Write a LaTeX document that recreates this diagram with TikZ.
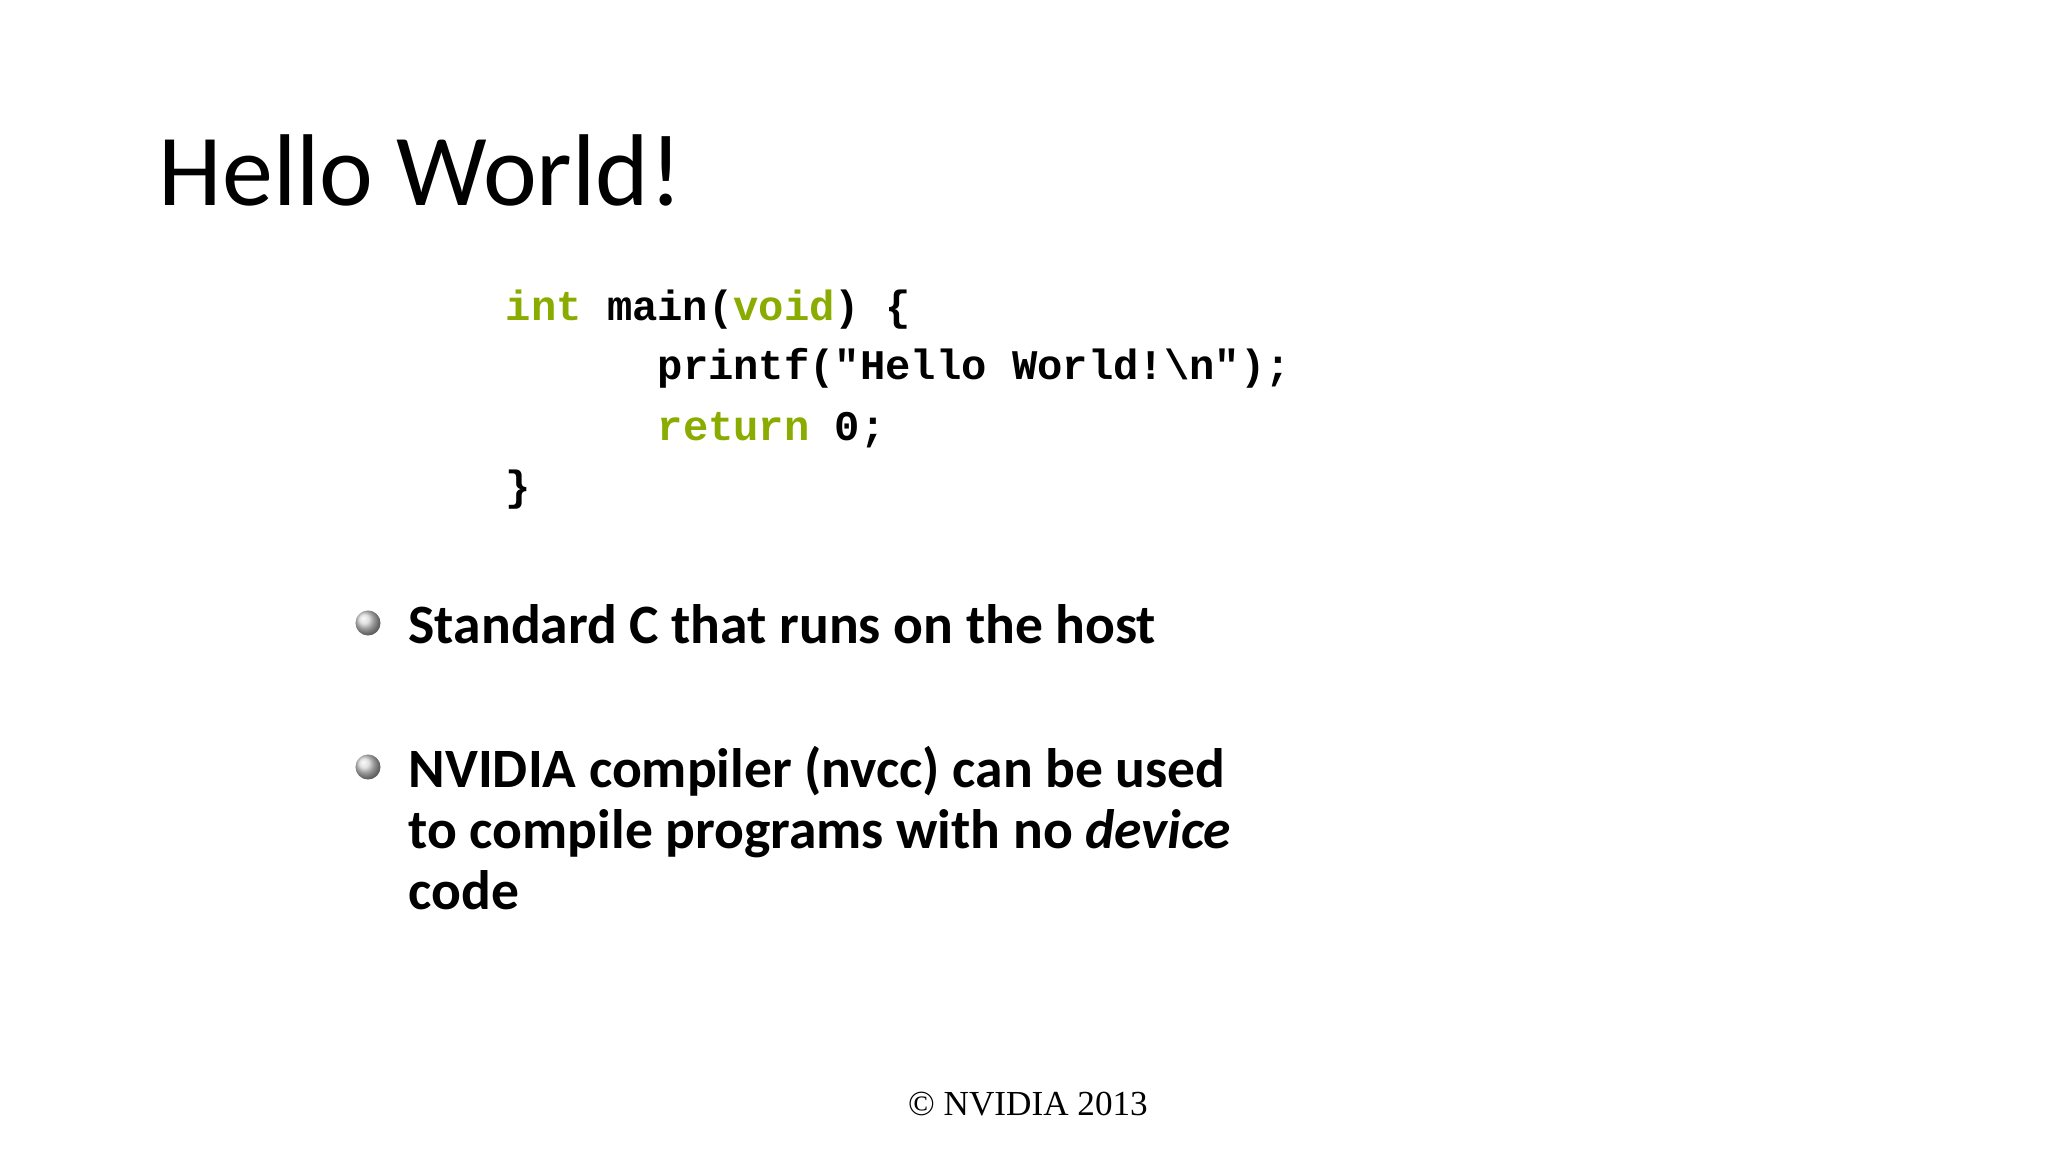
\documentclass[tikz,border=0pt]{standalone}
\usepackage{fontspec}
\setmainfont{Carlito}
\newfontfamily\codefont{Liberation Mono}
\newfontfamily\footfont{Liberation Serif}
\definecolor{nvgreen}{HTML}{8AAC00}
\begin{document}
\begin{tikzpicture}[x=0.01cm,y=-0.01cm,
  code/.style={anchor=base west,inner sep=0pt,font=\codefont\bfseries\fontsize{12}{14}\selectfont},
  btxt/.style={anchor=base west,inner sep=0pt,font=\bfseries\fontsize{15.8}{17.3}\selectfont},
  bdot/.style={circle,minimum size=0.25cm,inner sep=0pt,shading=ball,ball color=gray!30}]
\useasboundingbox (0,0) rectangle (2048,1152);
\node[anchor=base west,inner sep=0pt,font=\fontsize{29}{34}\selectfont\addfontfeatures{FakeBold=0}] (title) at (158,206) {Hello World!};
\node[code] (c1) at (505,321) {\textcolor{nvgreen}{int} main(\textcolor{nvgreen}{void}) \{};
\node[code] (c2) at (657,380) {printf("Hello World!\textbackslash n");};
\node[code] (c3) at (657,441) {\textcolor{nvgreen}{return} 0;};
\node[code] (c4) at (505,501) {\}};
\node[bdot] (d1) at (368,623) {};
\node[btxt] (b1) at (408,643) {Standard C that runs on the host};
\node[bdot] (d2) at (368,767) {};
\node[btxt] (b2) at (408,787) {NVIDIA compiler (nvcc) can be used};
\node[btxt] (b3) at (408,848) {to compile programs with no \textit{device}};
\node[btxt] (b4) at (408,909) {code};
\node[anchor=base,inner sep=0pt,font=\footfont\fontsize{10}{12}\selectfont] (foot) at (1028,1115) {© NVIDIA 2013};
\end{tikzpicture}
\end{document}
